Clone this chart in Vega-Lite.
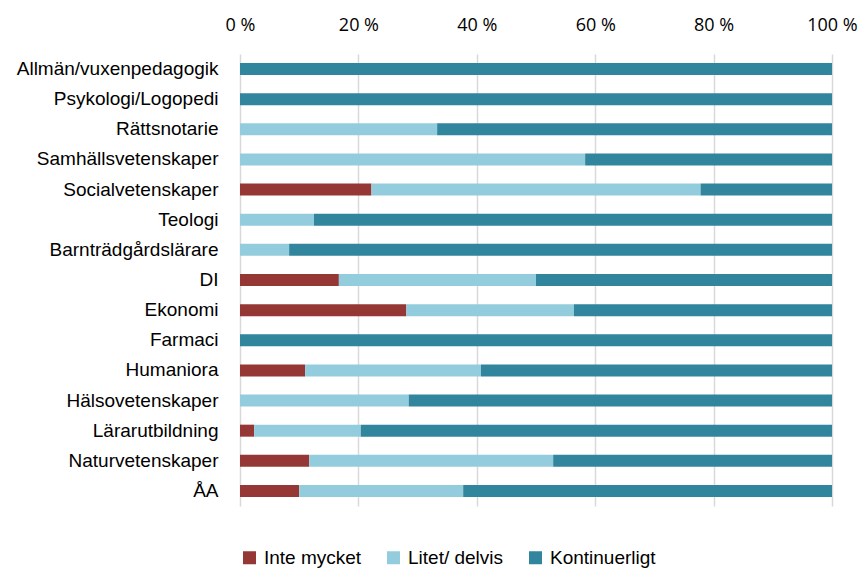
{
  "$schema": "https://vega.github.io/schema/vega-lite/v6.json",
  "width": 592,
  "height": 452,
  "autosize": {"type": "none"},
  "padding": {"left": 240, "top": 54, "right": 32, "bottom": 62},
  "background": "white",
  "config": {"view": {"stroke": null}},
  "data": {"values": [
    {"cat": "Allmän/vuxenpedagogik", "type": "Kontinuerligt", "value": 100},
    {"cat": "Psykologi/Logopedi", "type": "Kontinuerligt", "value": 100},
    {"cat": "Rättsnotarie", "type": "Litet/ delvis", "value": 33.3},
    {"cat": "Rättsnotarie", "type": "Kontinuerligt", "value": 66.7},
    {"cat": "Samhällsvetenskaper", "type": "Litet/ delvis", "value": 58.3},
    {"cat": "Samhällsvetenskaper", "type": "Kontinuerligt", "value": 41.7},
    {"cat": "Socialvetenskaper", "type": "Inte mycket", "value": 22.2},
    {"cat": "Socialvetenskaper", "type": "Litet/ delvis", "value": 55.6},
    {"cat": "Socialvetenskaper", "type": "Kontinuerligt", "value": 22.2},
    {"cat": "Teologi", "type": "Litet/ delvis", "value": 12.5},
    {"cat": "Teologi", "type": "Kontinuerligt", "value": 87.5},
    {"cat": "Barnträdgårdslärare", "type": "Litet/ delvis", "value": 8.3},
    {"cat": "Barnträdgårdslärare", "type": "Kontinuerligt", "value": 91.7},
    {"cat": "DI", "type": "Inte mycket", "value": 16.7},
    {"cat": "DI", "type": "Litet/ delvis", "value": 33.3},
    {"cat": "DI", "type": "Kontinuerligt", "value": 50},
    {"cat": "Ekonomi", "type": "Inte mycket", "value": 28.1},
    {"cat": "Ekonomi", "type": "Litet/ delvis", "value": 28.3},
    {"cat": "Ekonomi", "type": "Kontinuerligt", "value": 43.6},
    {"cat": "Farmaci", "type": "Kontinuerligt", "value": 100},
    {"cat": "Humaniora", "type": "Inte mycket", "value": 11.0},
    {"cat": "Humaniora", "type": "Litet/ delvis", "value": 29.7},
    {"cat": "Humaniora", "type": "Kontinuerligt", "value": 59.3},
    {"cat": "Hälsovetenskaper", "type": "Litet/ delvis", "value": 28.5},
    {"cat": "Hälsovetenskaper", "type": "Kontinuerligt", "value": 71.5},
    {"cat": "Lärarutbildning", "type": "Inte mycket", "value": 2.4},
    {"cat": "Lärarutbildning", "type": "Litet/ delvis", "value": 18.0},
    {"cat": "Lärarutbildning", "type": "Kontinuerligt", "value": 79.6},
    {"cat": "Naturvetenskaper", "type": "Inte mycket", "value": 11.7},
    {"cat": "Naturvetenskaper", "type": "Litet/ delvis", "value": 41.2},
    {"cat": "Naturvetenskaper", "type": "Kontinuerligt", "value": 47.1},
    {"cat": "ÅA", "type": "Inte mycket", "value": 10.0},
    {"cat": "ÅA", "type": "Litet/ delvis", "value": 27.7},
    {"cat": "ÅA", "type": "Kontinuerligt", "value": 62.3}
  ]},
  "transform": [
    {"calculate": "indexof(['Inte mycket','Litet/ delvis','Kontinuerligt'], datum.type)", "as": "ord"}
  ],
  "mark": {"type": "bar", "size": 12},
  "encoding": {
    "y": {
      "field": "cat", "type": "nominal", "sort": null,
      "scale": {"paddingInner": 0, "paddingOuter": 0},
      "axis": {"title": null, "domain": false, "ticks": false, "grid": false,
               "labelFont": "Liberation Sans", "labelFontSize": 19, "labelColor": "#000000",
               "labelPadding": 22, "labelLimit": 300}
    },
    "x": {
      "field": "value", "type": "quantitative", "stack": "normalize",
      "scale": {"domain": [0, 1], "nice": false},
      "axis": {"orient": "top", "title": null, "domain": false, "ticks": false,
               "values": [0, 0.2, 0.4, 0.6, 0.8, 1],
               "labelExpr": "format(datum.value*100, 'd') + ' %'",
               "labelFont": "Open Sans", "labelFontSize": 18, "labelColor": "#000000",
               "labelPadding": 20, "labelFlush": false,
               "grid": true, "gridColor": "#d9d9d9", "gridWidth": 1.5}
    },
    "color": {
      "field": "type", "type": "nominal",
      "scale": {"domain": ["Inte mycket", "Litet/ delvis", "Kontinuerligt"],
                "range": ["#953735", "#93CDDD", "#31859C"]},
      "legend": {"title": null, "orient": "bottom", "direction": "horizontal", "offset": 42,
                 "symbolType": "square", "symbolSize": 169, "symbolStrokeWidth": 0,
                 "labelFont": "Liberation Sans", "labelFontSize": 19, "labelColor": "#000000",
                 "labelOffset": 5, "columnPadding": 22}
    },
    "order": {"field": "ord", "type": "quantitative"}
  }
}
